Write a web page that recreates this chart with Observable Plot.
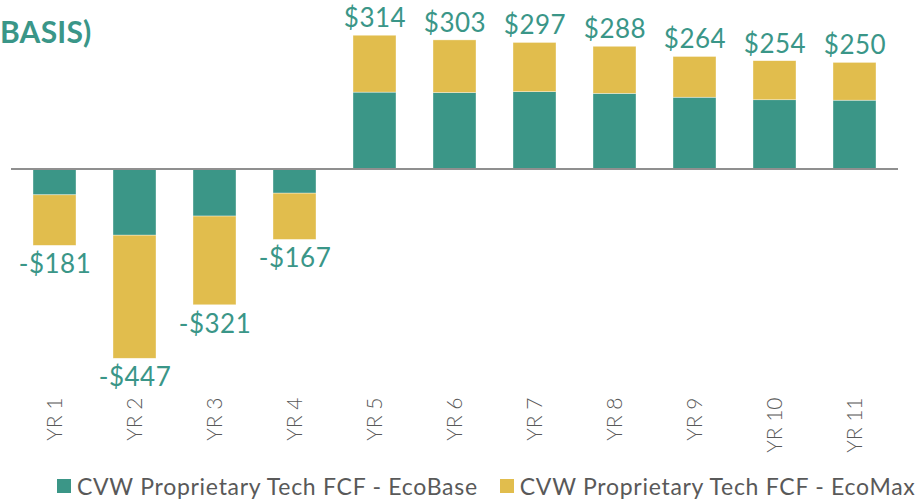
<!DOCTYPE html>
<html>
<head>
<meta charset="utf-8">
<script src="https://cdn.jsdelivr.net/npm/d3@7"></script>
<script src="https://cdn.jsdelivr.net/npm/@observablehq/plot@0.6"></script>
<style>
  html, body { margin: 0; padding: 0; background: #fff; }
  #wrap { position: relative; width: 922px; height: 503px; overflow: hidden; font-family: Lato, "Open Sans", sans-serif; }
  #title { position: absolute; left: 0px; top: 16px; font-size: 30px; font-weight: 700; letter-spacing: 0.2px; color: #3a9688; line-height: 1; white-space: nowrap; z-index: 2; }
  #chart { position: absolute; left: 0; top: 0; }
  #legend { position: absolute; left: 57px; top: 472px; display: flex; align-items: center; white-space: nowrap; font-size: 23px; letter-spacing: 0.72px; color: #595959; }
  .sw { display: inline-block; width: 14px; height: 14px; margin-right: 6px; }
  .item { display: flex; align-items: center; margin-right: 22px; }
</style>
</head>
<body>
<div id="wrap">
  <div id="title">BASIS)</div>
  <div id="chart"></div>
  <div id="legend"></div>
</div>
<script>
const years = ["YR 1","YR 2","YR 3","YR 4","YR 5","YR 6","YR 7","YR 8","YR 9","YR 10","YR 11"];
const ecoBase = [-62, -157, -112, -58, 180, 179, 181, 177, 168, 162, 161];
const ecoMax  = [-119, -290, -209, -109, 134, 124, 116, 111, 96, 92, 89];
const seriesNames = ["CVW Proprietary Tech FCF - EcoBase", "CVW Proprietary Tech FCF - EcoMax"];
const seriesColors = ["#3b9687", "#e1bd4d"];

const rows = [];
years.forEach((yr, i) => {
  rows.push({year: yr, series: seriesNames[0], value: ecoBase[i]});
  rows.push({year: yr, series: seriesNames[1], value: ecoMax[i]});
});
const totals = years.map((yr, i) => ({year: yr, total: ecoBase[i] + ecoMax[i]}));
const fmt = v => (v < 0 ? "-$" : "$") + Math.abs(v);

const labelStyle = {fill: "#3a9688", fontSize: 26, fontWeight: 400, lineAnchor: "middle"};

const chart = Plot.plot({
  width: 922,
  height: 465,
  marginLeft: 11,
  marginRight: 24,
  marginTop: 0,
  marginBottom: 85,
  style: {fontFamily: "Lato, 'Open Sans', sans-serif", background: "transparent"},
  x: {domain: years, paddingInner: 0.467, paddingOuter: 0.226, axis: null},
  y: {domain: [-498.2, 397], axis: null},
  color: {domain: seriesNames, range: seriesColors},
  marks: [
    Plot.barY(rows, {x: "year", y: "value", fill: "series", stroke: "#ffffff", strokeWidth: 0.6, strokeOpacity: 0.6}),
    Plot.ruleY([0], {stroke: "#8f8f8f", strokeWidth: 2}),
    Plot.text(totals.filter(d => d.total >= 0), {x: "year", y: "total", text: d => fmt(d.total), dy: -17, ...labelStyle}),
    Plot.text(totals.filter(d => d.total < 0), {x: "year", y: "total", text: d => fmt(d.total), dy: 19, ...labelStyle}),
    Plot.axisX({tickSize: 0, tickPadding: 17, tickRotate: -90, fontSize: 21, fontWeight: 300, color: "#595959", label: null})
  ]
});
chart.querySelectorAll("g[aria-label='text'] text").forEach(t => t.style.letterSpacing = "0.5px");
document.getElementById("chart").appendChild(chart);

const legend = document.getElementById("legend");
seriesNames.forEach((name, i) => {
  const item = document.createElement("div");
  item.className = "item";
  const sw = document.createElement("span");
  sw.className = "sw";
  sw.style.background = seriesColors[i];
  item.appendChild(sw);
  const t = document.createElement("span");
  t.textContent = name;
  item.appendChild(t);
  legend.appendChild(item);
});
</script>
</body>
</html>
